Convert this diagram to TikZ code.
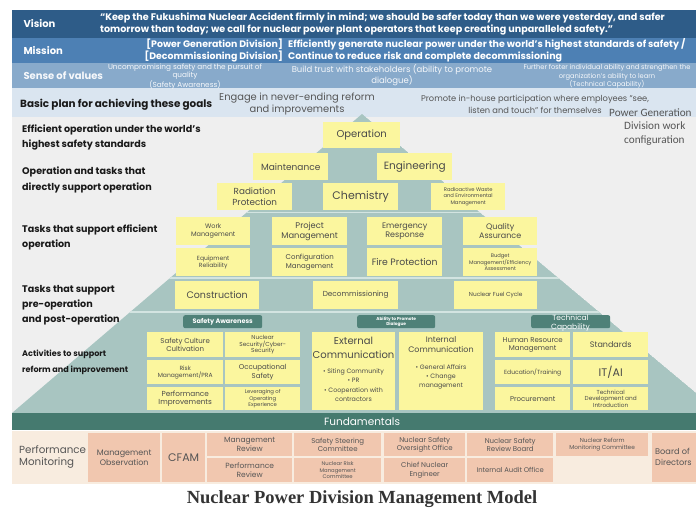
\documentclass[tikz,border=0pt]{standalone}
\usepackage{fontspec}
\setmainfont{Poppins}
\newfontfamily\capfont{Liberation Serif}
\newfontfamily\calfont{Carlito}
\definecolor{visb}{HTML}{2E5C88}
\definecolor{misb}{HTML}{4D80B4}
\definecolor{senb}{HTML}{88AACB}
\definecolor{basb}{HTML}{DAE5F0}
\definecolor{panel}{HTML}{EFEFEF}
\definecolor{teal}{HTML}{A8C5C1}
\definecolor{sepl}{HTML}{D3E4E1}
\definecolor{yel}{HTML}{FBF69E}
\definecolor{tagc}{HTML}{4F8178}
\definecolor{fund}{HTML}{457A6F}
\definecolor{cream}{HTML}{F8ECDF}
\definecolor{salm}{HTML}{F1C7AF}
\definecolor{btxt}{HTML}{4A4A4A}
\definecolor{gtxt}{HTML}{555555}
\newcommand\fs[2]{\fontsize{#1}{#2}\selectfont}
\tikzset{
  ybox/.style={fill=yel, inner sep=0pt, align=center, text=btxt, anchor=north west},
  sbox/.style={fill=salm, inner sep=0pt, align=center, text=gtxt, anchor=north west},
  tagbox/.style={fill=tagc, rounded corners=2pt, inner sep=0pt, align=center, text=white, anchor=north west},
  hlab/.style={anchor=west, text=white, font=\fs{10}{12}\bfseries},
  llab/.style={anchor=west, align=left, text=black!90},
  plain/.style={inner sep=0pt, align=center},
}
\newcommand\bx[8][ybox]{\node[#1, minimum width={#5pt-#3pt}, minimum height={#6pt-#4pt}, font={\pgfmathsetmacro\bsk{#7*1.18}\fontsize{#7}{\bsk}\selectfont}] (#2) at (#3,#4) {#8};}
\begin{document}
\begin{tikzpicture}[x=1pt,y=-1pt]
\useasboundingbox (0,0) rectangle (696,510);
\clip (0,0) rectangle (696,510);
\fill[white] (0,0) rectangle (696,510);
% header bars
\fill[visb] (12,10) rectangle (696,38);
\fill[misb] (12,38) rectangle (696,63);
\fill[senb] (12,63) rectangle (696,88);
\fill[basb] (12,88) rectangle (696,117);
\fill[panel] (12,117) rectangle (696,413);
% pyramid
\begin{scope}
\clip (362,114) -- (12,413) -- (720,413) -- cycle;
\fill[teal] (362,114) -- (12,413) -- (720,413) -- cycle;
\draw[sepl, line width=1.8pt] (0,212.5) -- (696,212.5);
\draw[sepl, line width=1.8pt] (0,278) -- (696,278);
\draw[sepl, line width=1.8pt] (0,312) -- (696,312);
\end{scope}
% header texts
\node[hlab] (vis) at (20,24) {Vision};
\node[anchor=west, text=white, font=\fs{9.6}{12}\bfseries, align=left, inner sep=0pt] (vtx) at (100,23.5) {“Keep the Fukushima Nuclear Accident firmly in mind; we should be safer today than we were yesterday, and safer\\tomorrow than today; we call for nuclear power plant operators that keep creating unparalleled safety.”};
\node[hlab] (mis) at (20,51) {Mission};
\node[anchor=east, text=white, font=\fs{9.4}{12}\bfseries, align=right, inner sep=0pt] (mdiv) at (283,50.5) {[Power Generation Division]\\{}[Decommissioning Division]};
\node[anchor=west, text=white, font=\fs{9.5}{12}\bfseries, align=left, inner sep=0pt] (mtx) at (288,50.5) {Efficiently generate nuclear power under the world's highest standards of safety /\\Continue to reduce risk and complete decommissioning};
\node[hlab, text=white!92!senb] (sov) at (20,76) {Sense of values};
\node[plain, text=white!92!senb, font=\fs{7.3}{8.2}] (sv1) at (185,76.5) {Uncompromising safety and the pursuit of\\quality\\(Safety Awareness)};
\node[plain, text=white!92!senb, font=\fs{8.5}{10}] (sv2) at (392,75) {Build trust with stakeholders (ability to promote\\dialogue)};
\node[plain, text=white!92!senb, font=\fs{6.7}{8.2}] (sv3) at (607,76.5) {Further foster individual ability and strengthen the\\organization's ability to learn\\(Technical Capability)};
\node[llab, font=\fs{10.4}{12}\bfseries, inner sep=0pt] (bp) at (20,104.5) {Basic plan for achieving these goals};
\node[plain, text=gtxt, font=\fs{9.9}{12}] (bp1) at (297,104) {Engage in never-ending reform\\and improvements};
\node[plain, text=gtxt, font=\fs{8.3}{12}] (bp2) at (535,104) {Promote in-house participation where employees "see,\\listen and touch" for themselves};
\node[anchor=north west, align=left, text=gtxt, font=\calfont\fs{11.2}{13.3}, inner sep=0pt] (pgd) at (609,108.5) {Power Generation\\\hspace*{15pt}Division work\\\hspace*{15pt}configuration};
% left labels
\node[llab, font=\fs{9.6}{15}\bfseries, inner sep=0pt] (l1) at (22,137.5) {Efficient operation under the world's\\highest safety standards};
\node[llab, font=\fs{9.6}{16}\bfseries, inner sep=0pt] (l2) at (22,180) {Operation and tasks that\\directly support operation};
\node[llab, font=\fs{9.6}{15}\bfseries, inner sep=0pt] (l3) at (22,237.5) {Tasks that support efficient\\operation};
\node[llab, font=\fs{9.6}{15}\bfseries, inner sep=0pt] (l4) at (22,305) {Tasks that support\\pre-operation\\and post-operation};
\node[llab, font=\fs{8.1}{16}\bfseries, inner sep=0pt] (l5) at (22,362) {Activities to support\\reform and improvement};
% pyramid boxes
\bx{op}{323}{122}{400}{148}{10}{Operation}
\bx{mnt}{253}{153}{328}{180}{9}{Maintenance}
\bx{eng}{377}{153}{452}{180}{10.5}{Engineering}
\bx{rad}{217}{183}{292}{210}{8.8}{Radiation\\Protection}
\bx{chem}{323}{183}{398}{210}{11}{Chemistry}
\bx{rwm}{431}{183}{505}{210}{5.2}{Radioactive Waste\\and Environmental\\Management}
\bx{wm}{176}{217}{250}{245}{6.5}{Work\\Management}
\bx{pm}{272}{217}{347}{245}{8.3}{Project\\Management}
\bx{er}{367}{217}{442}{245}{8}{Emergency\\Response}
\bx{qa}{463}{217}{537}{245}{8}{Quality\\Assurance}
\bx{eqr}{176}{248}{250}{276}{6}{Equipment\\Reliability}
\bx{cm}{272}{248}{347}{276}{7}{Configuration\\Management}
\bx{fp}{367}{248}{442}{276}{9.3}{Fire Protection}
\bx{bud}{463}{248}{537}{276}{5.2}{Budget\\Management/Efficiency\\Assessment}
\bx{con}{175}{281}{259}{309}{9.5}{Construction}
\bx{dec}{313}{281}{398}{309}{7.3}{Decommissioning}
\bx{nfc}{454}{281}{537}{309}{5.8}{Nuclear Fuel Cycle}
% tags
\bx[tagbox]{tsa}{183}{315}{262}{328}{6.5}{\bfseries Safety Awareness}
\bx[tagbox]{tad}{357}{315}{435}{328}{4.3}{\bfseries Ability to Promote\\\bfseries Dialogue}
\bx[tagbox]{ttc}{531}{315}{610}{328}{1}{}
\node[plain, text=white, font=\fs{7.5}{9}] (ttct) at (570.5,323) {Technical\\Capability};
% activities
\bx{scc}{147}{332}{223}{357}{7}{Safety Culture\\Cultivation}
\bx{nsc}{225}{332}{300}{357}{5.8}{Nuclear\\Security/Cyber-\\Security}
\bx{rmp}{147}{360}{223}{384}{6}{Risk\\Management/PRA}
\bx{ocs}{225}{360}{300}{384}{7}{Occupational\\Safety}
\bx{pim}{147}{387}{223}{410}{7.3}{Performance\\Improvements}
\bx{loe}{225}{387}{300}{410}{5.3}{Leveraging of\\Operating\\Experience}
\bx{ext}{312}{332}{395}{410}{1}{}
\node[plain, text=btxt, font=\fs{10}{14}] (extt) at (353.5,348) {External\\Communication};
\node[plain, text=btxt, font=\fs{6.3}{9.3}] (extb) at (353.5,385) {• Siting Community\\• PR\\• Cooperation with\\contractors};
\bx{ic}{399}{332}{483}{410}{1}{}
\node[plain, text=btxt, font=\fs{8}{10}] (ict) at (441,345) {Internal\\Communication};
\node[plain, text=btxt, font=\fs{6.3}{9}] (icb) at (441,377) {• General Affairs\\• Change\\management};
\bx{hrm}{495}{332}{570}{357}{7}{Human Resource\\Management}
\bx{std}{573}{332}{648}{357}{8}{Standards}
\bx{edu}{495}{360}{570}{384}{6}{Education/Training}
\bx{itai}{573}{360}{648}{384}{11}{IT/AI}
\bx{prc}{495}{387}{570}{410}{7}{Procurement}
\bx{tdi}{573}{387}{648}{410}{5.8}{Technical\\Development and\\Introduction}
% fundamentals
\fill[fund] (12,413) rectangle (696,430);
\node[plain, text=white, font=\fs{10.5}{12}] (fun) at (362,421.5) {Fundamentals};
% bottom
\fill[cream] (12,431) rectangle (696,484);
\node[llab, text=gtxt, font=\fs{10.3}{12.5}, inner sep=0pt] (pmon) at (19,457) {Performance\\Monitoring};
\bx[sbox]{mob}{88}{433}{160}{482}{8}{Management\\Observation}
\bx[sbox]{cfam}{162}{433}{205}{482}{11}{CFAM}
\bx[sbox]{mrv}{207}{433}{292}{456}{7.5}{Management\\Review}
\bx[sbox]{prv}{207}{458}{292}{482}{7.5}{Performance\\Review}
\bx[sbox]{ssc}{294}{433}{381}{456}{7}{Safety Steering\\Committee}
\bx[sbox]{nrm}{294}{458}{381}{482}{5.3}{Nuclear Risk\\Management\\Committee}
\bx[sbox]{nso}{384}{433}{465}{456}{7}{Nuclear Safety\\Oversight Office}
\bx[sbox]{cne}{384}{458}{465}{482}{7}{Chief Nuclear\\Engineer}
\bx[sbox]{nsr}{467}{433}{553}{456}{7}{Nuclear Safety\\Review Board}
\bx[sbox]{iao}{467}{458}{553}{482}{6.8}{Internal Audit Office}
\bx[sbox]{nrmc}{556}{433}{648}{456}{5.8}{Nuclear Reform\\Monitoring Committee}
\bx[sbox]{bod}{652}{433}{720}{482}{1}{}
\node[anchor=west, align=left, text=gtxt, font=\fs{8.2}{11}, inner sep=0pt] (bodt) at (655,457) {Board of\\Directors};
% caption
\node[plain, font=\capfont\bfseries\fs{18.5}{20}, text=black!80] (cap) at (362,499) {Nuclear Power Division Management Model};
\end{tikzpicture}
\end{document}
